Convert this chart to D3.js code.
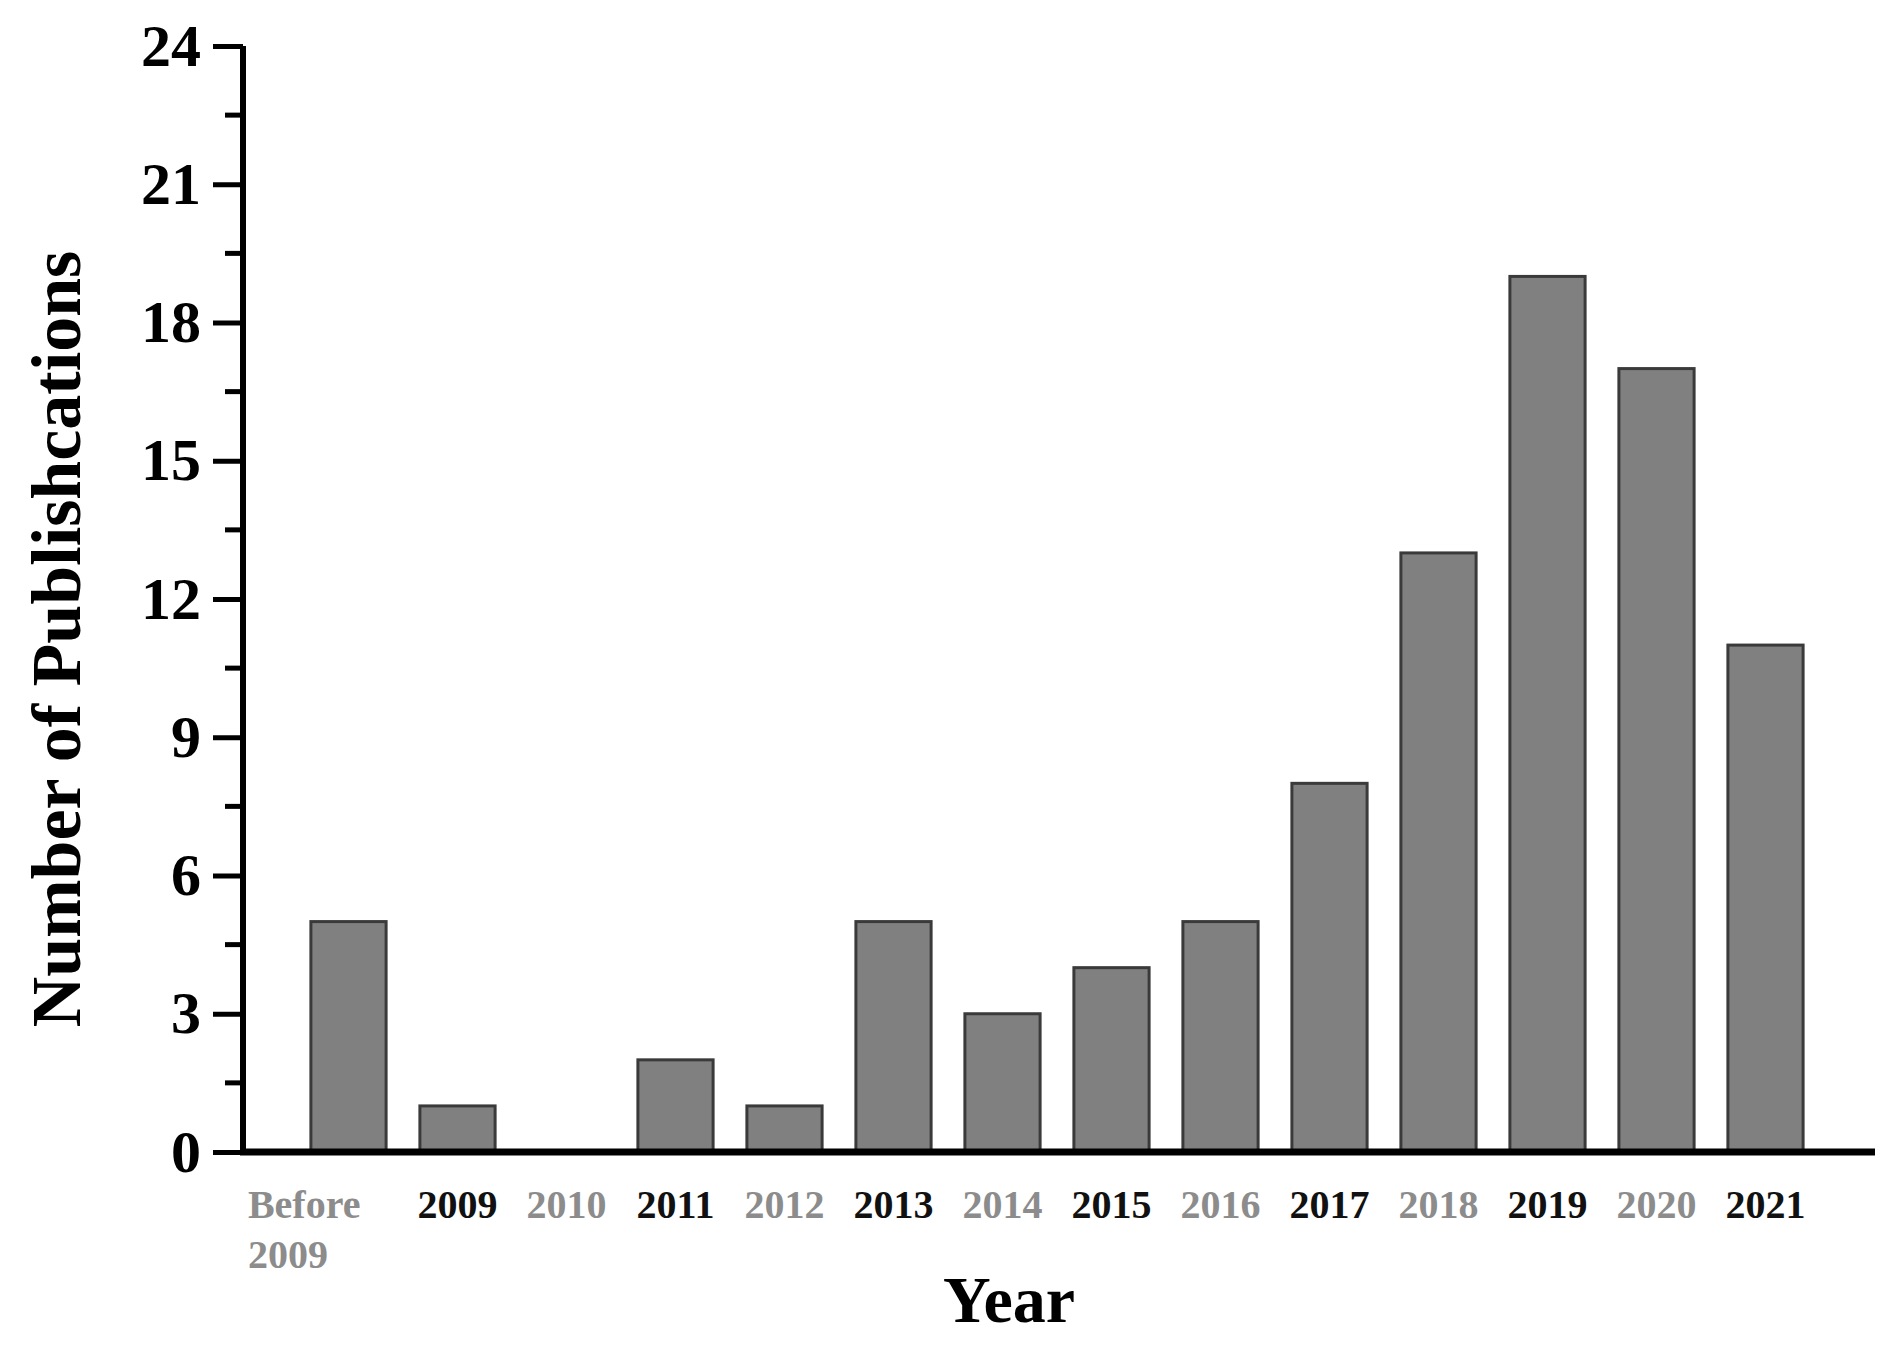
<!DOCTYPE html>
<html>
<head>
<meta charset="utf-8">
<script src="https://cdn.jsdelivr.net/npm/d3@7"></script>
<style>
  body { margin: 0; background: #fff; }
  text { font-family: "Liberation Serif", "DejaVu Serif", serif; font-weight: bold; }
</style>
</head>
<body>
<div id="container"></div>
<script>
const categories = ["Before\n2009", "2009", "2010", "2011", "2012", "2013", "2014", "2015", "2016", "2017", "2018", "2019", "2020", "2021"];
const counts = [5, 1, 0, 2, 1, 5, 3, 4, 5, 8, 13, 19, 17, 11];
const yTicks = [0, 3, 6, 9, 12, 15, 18, 21, 24];

const w = 1894, h = 1346;
const axisX = 243, axisRight = 1875, y0 = 1152, yTop = 46;

const svg = d3.select("#container").append("svg").attr("width", w).attr("height", h);

const xScale = d3.scaleBand().domain(categories).range([294, 1820]).paddingInner(0.31).paddingOuter(0.155);
const yScale = d3.scaleLinear().domain([0, 24]).range([y0, yTop]);

// bars
svg.selectAll("rect.bar")
  .data(counts)
  .enter()
  .append("rect")
  .attr("class", "bar")
  .attr("x", (d, i) => xScale(categories[i]))
  .attr("y", (d) => yScale(d))
  .attr("width", xScale.bandwidth())
  .attr("height", (d) => y0 - yScale(d))
  .attr("fill", "#808080")
  .attr("stroke", "#3a3a3a")
  .attr("stroke-width", 3);

// y axis
const yAxis = d3.axisLeft(yScale).tickValues(yTicks).tickSize(30).tickPadding(12).tickFormat(d3.format("d"));
const gy = svg.append("g").attr("transform", "translate(" + axisX + ",0)").call(yAxis);
gy.select(".domain").attr("stroke-width", 6).attr("d", "M0," + yTop + "V" + y0);
gy.selectAll(".tick line").attr("stroke-width", 5);
gy.selectAll(".tick text").style("font-size", "60px").style("font-weight", "bold").attr("fill", "#000");
// minor ticks
svg.selectAll("line.minor")
  .data(d3.range(1.5, 24, 3))
  .enter()
  .append("line")
  .attr("x1", axisX - 18).attr("x2", axisX)
  .attr("y1", (d) => yScale(d)).attr("y2", (d) => yScale(d))
  .attr("stroke", "#000").attr("stroke-width", 5);

// x baseline
svg.append("line")
  .attr("x1", axisX - 3).attr("x2", axisRight)
  .attr("y1", y0).attr("y2", y0)
  .attr("stroke", "#000").attr("stroke-width", 7);

// x labels
const xl = svg.selectAll("text.xlab")
  .data(categories)
  .enter()
  .append("text")
  .attr("class", "xlab")
  .attr("x", (d) => xScale(d) + xScale.bandwidth() / 2)
  .attr("y", 1218)
  .attr("text-anchor", "middle")
  .style("font-size", "40px")
  .attr("fill", (d, i) => (i % 2 === 0 ? "#8c8c8c" : "#111"));
xl.each(function (d) {
  const parts = d.split("\n");
  const t = d3.select(this);
  parts.forEach((p, k) => {
    t.append("tspan").attr("x", t.attr("x")).attr("dy", k === 0 ? 0 : 50).text(p);
  });
});
xl.filter((d) => d.includes("\n")).attr("text-anchor", "start").attr("x", xScale(categories[0]) - 63)
  .selectAll("tspan").attr("x", xScale(categories[0]) - 63);

// axis titles
svg.append("text")
  .attr("x", (axisX + axisRight) / 2 - 50)
  .attr("y", 1322)
  .attr("text-anchor", "middle")
  .style("font-size", "66px")
  .text("Year");

svg.append("text")
  .attr("transform", "rotate(-90)")
  .attr("x", -(y0 + yTop) / 2 - 40)
  .attr("y", 80)
  .attr("text-anchor", "middle")
  .style("font-size", "70px")
  .text("Number of Publishcations");
</script>
</body>
</html>
